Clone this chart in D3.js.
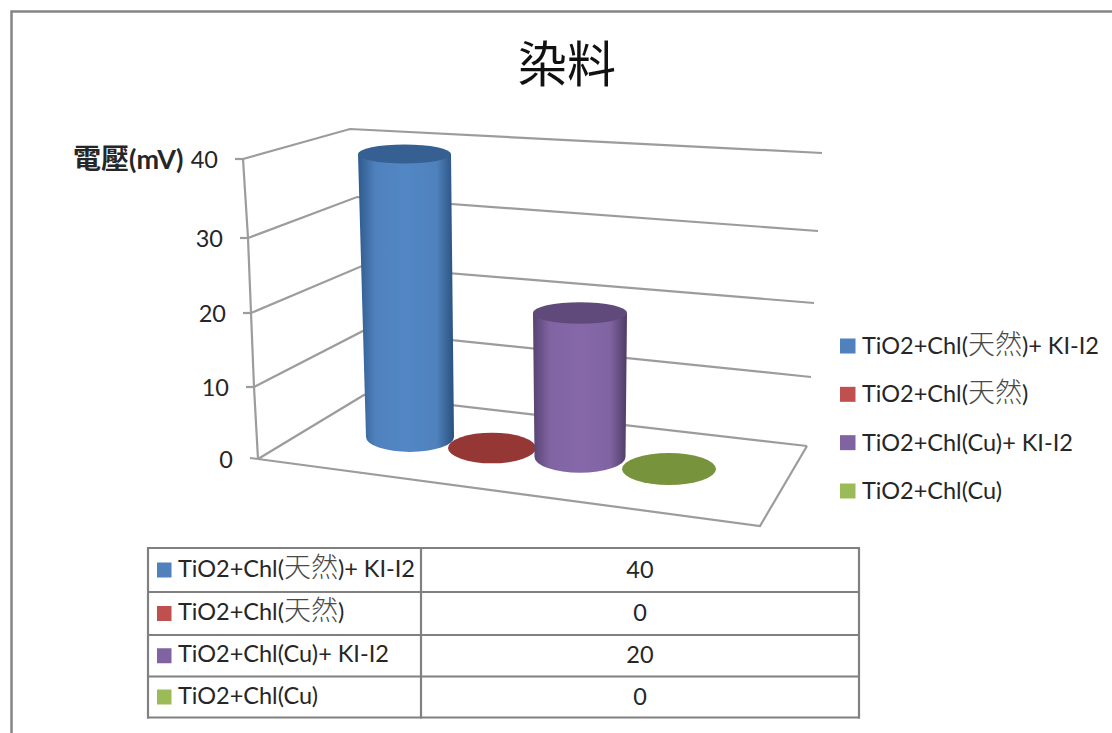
<!DOCTYPE html>
<html lang="zh-Hant">
<head>
<meta charset="utf-8">
<script src="https://cdn.jsdelivr.net/npm/d3@7"></script>
<style>
  html, body { margin: 0; padding: 0; background: #fff; }
  svg { display: block; }
  text { font-family: Lato, "Noto Sans CJK TC", sans-serif; fill: #262626; }
</style>
</head>
<body>
<svg id="chart" width="1112" height="733"></svg>
<script>
// Series and readings of the cylinder chart
const seriesNames = ["TiO2+Chl(天然)+ KI-I2", "TiO2+Chl(天然)", "TiO2+Chl(Cu)+ KI-I2", "TiO2+Chl(Cu)"];
const seriesValues = [40, 0, 20, 0];
const axisTicks = [0, 10, 20, 30, 40];
const chartTitle = "染料";
const axisTitleCjk = "電壓";
const axisTitleUnit = "(mV)";
const legendColors = ["#4f81bd", "#c0504d", "#8064a2", "#9bbb59"];
const capColors = ["#376092", "#953735", "#604a7b", "#77933c"];
const edgeColors = ["#2f5a8c", "#953735", "#584372", "#77933c"];

const svg = d3.select("#chart");

// The vertical axis is drawn in perspective, so each vertical edge of the box has its own scale
const yFront = d3.scaleLinear().domain(axisTicks).range([459, 387, 313, 238, 159]);
const xFront = d3.scaleLinear().domain(axisTicks).range([258, 254, 251, 248, 243]);
const yCorner = d3.scaleLinear().domain(axisTicks).range([395, 331, 266, 197, 129]);
const xCorner = d3.scaleLinear().domain(axisTicks).range([364, 363, 362, 357, 350]);
const yRight = d3.scaleLinear().domain(axisTicks).range([446, 377, 303, 231, 153]);
const xRight = d3.scaleLinear().domain(axisTicks).range([807, 811, 814, 818, 822]);

// Cylinder placement on the floor of the box
const baseX = d3.scaleOrdinal().domain(seriesNames).range([410, 492, 580, 669]);
const baseY = d3.scaleOrdinal().domain(seriesNames).range([437, 448, 457, 469]);
const baseRx = d3.scaleOrdinal().domain(seriesNames).range([44, 44, 45.5, 47]);
const baseRy = d3.scalePoint().domain(seriesNames).range([15, 16]);
const barHeight = d3.scaleLinear().domain([0, 20, 40]).range([0, 144, 283]);
const lean = d3.scaleLinear().domain([0, 20, 40]).range([0, 0, -5.5]);
const capWiden = d3.scaleLinear().domain([0, 20, 40]).range([0, 1.5, 2.5]);
const capFlatten = d3.scaleLinear().domain([0, 20, 40]).range([1, 0.69, 0.63]);

// Writes a label with its CJK characters set larger and lighter than the Latin text
function richLabel(sel, label, latinSize, cjkSize) {
  sel.selectAll("tspan").data(label.match(/[\u4e00-\u9fff]+|[^\u4e00-\u9fff]+/g)).join("tspan")
    .text(d => d)
    .each(function (d) {
      const cjk = /[\u4e00-\u9fff]/.test(d);
      d3.select(this).attr("font-size", cjk ? cjkSize : latinSize)
        .style("fill", cjk ? "#4a4a4a" : null)
        .style("font-weight", cjk ? 300 : null);
    });
}

// Outer frame: only the top and left edges are in view
svg.append("path")
  .attr("d", d3.line()([[11.5, 733], [11.5, 11.5], [1112, 11.5]]))
  .attr("fill", "none").attr("stroke", "#858585").attr("stroke-width", 2.5);

svg.append("text").text(chartTitle)
  .attr("x", 567).attr("y", 82).attr("text-anchor", "middle")
  .attr("font-size", 49).style("font-family", '"Noto Sans CJK TC"').style("fill", "#111");

const boxStroke = "#9c9c9c";
const grid = svg.append("g").attr("fill", "none").attr("stroke", boxStroke).attr("stroke-width", 2.2);

// Gridlines across the side wall and the back wall
axisTicks.forEach(t => {
  grid.append("path").attr("d", d3.line()([
    [xFront(t), yFront(t)], [xCorner(t), yCorner(t)], [xRight(t), yRight(t)]
  ]));
  grid.append("line")
    .attr("x1", xFront(t) - 8).attr("y1", yFront(t) + (t === 0 ? -1 : 0))
    .attr("x2", xFront(t)).attr("y2", yFront(t));
});

// Vertical value axis and the floor outline
grid.append("path").attr("d", d3.line()(axisTicks.map(t => [xFront(t), yFront(t)])));
grid.append("path").attr("d", d3.line()([[xFront(0), yFront(0)], [760, 526], [xRight(0), yRight(0)]]));

// Tick labels step rightward with the tilted axis
svg.append("g").selectAll("text").data(axisTicks).join("text")
  .text(d => d)
  .attr("x", d => xFront(d) - 25)
  .attr("y", d => yFront(d) + 8.5)
  .attr("text-anchor", "end")
  .attr("font-size", 23.5);

svg.append("text")
  .attr("x", 73).attr("y", 169)
  .call(t => t.append("tspan").text(axisTitleCjk).attr("font-size", 28).attr("font-weight", 700))
  .call(t => t.append("tspan").text(axisTitleUnit).attr("font-size", 27).attr("font-weight", 700));

// Horizontal shading that gives each cylinder its round look
const defs = svg.append("defs");
seriesNames.forEach((name, i) => {
  const g = defs.append("linearGradient").attr("id", "shade" + i);
  [[0, edgeColors[i]], [0.18, legendColors[i]], [0.5, d3.color(legendColors[i]).brighter(0.12)],
   [0.82, legendColors[i]], [1, d3.color(edgeColors[i]).darker(0.3)]].forEach(([o, c]) => {
    g.append("stop").attr("offset", o).attr("stop-color", c);
  });
});

const bars = svg.append("g");
seriesNames.forEach((name, i) => {
  const v = seriesValues[i];
  const bx = baseX(name), by = baseY(name), brx = baseRx(name), bry = baseRy(name);
  const tx = bx + lean(v), ty = by - barHeight(v);
  const trx = brx + capWiden(v), trY = bry * capFlatten(v);
  if (v > 0) {
    bars.append("path")
      .attr("d", `M${tx - trx},${ty} L${bx - brx},${by} A${brx},${bry} 0 0 0 ${bx + brx},${by} L${tx + trx},${ty} Z`)
      .attr("fill", `url(#shade${i})`);
  }
  bars.append("ellipse")
    .attr("cx", tx).attr("cy", ty).attr("rx", trx).attr("ry", trY)
    .attr("fill", capColors[i]);
});

// Legend on the right
const legendY = d3.scalePoint().domain(seriesNames).range([346, 491]);
const legend = svg.append("g");
legend.selectAll("rect").data(seriesNames).join("rect")
  .attr("x", 840).attr("y", d => legendY(d) - 7.5)
  .attr("width", 15.5).attr("height", 15)
  .attr("fill", (d, i) => legendColors[i]);
legend.selectAll("text").data(seriesNames).join("text")
  .attr("x", 862).attr("y", d => legendY(d) + 8)
  .each(function (d) { richLabel(d3.select(this), d, 23.5, 27); });

// Data table under the plot
const rowEdges = [548, 592, 635, 676.5, 717.5];
const colEdges = [148, 421, 859];
const table = svg.append("g");
table.append("g").attr("stroke", "#808080").attr("stroke-width", 2.2)
  .call(g => g.selectAll("line.r").data(rowEdges).join("line").attr("class", "r")
    .attr("x1", colEdges[0] - 1).attr("x2", colEdges[2] + 1).attr("y1", d => d).attr("y2", d => d))
  .call(g => g.selectAll("line.c").data(colEdges).join("line").attr("class", "c")
    .attr("y1", rowEdges[0] - 1).attr("y2", rowEdges[4] + 1).attr("x1", d => d).attr("x2", d => d));

seriesNames.forEach((name, i) => {
  const cy = (rowEdges[i] + rowEdges[i + 1]) / 2;
  table.append("rect").attr("x", 157).attr("y", cy - 7.5)
    .attr("width", 14.5).attr("height", 15).attr("fill", legendColors[i]);
  table.append("text").attr("x", 178).attr("y", cy + 6.5)
    .call(t => richLabel(t, name, 23.5, 27));
  table.append("text").text(seriesValues[i]).attr("x", 640).attr("y", cy + 7.5)
    .attr("text-anchor", "middle").attr("font-size", 23.5);
});
</script>
</body>
</html>
